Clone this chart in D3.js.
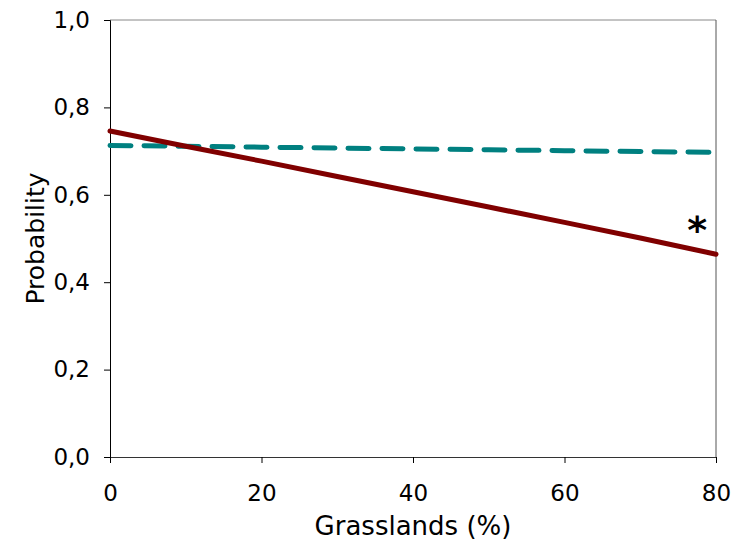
<!DOCTYPE html>
<html><head><meta charset="utf-8">
<script src="https://cdn.jsdelivr.net/npm/d3@7"></script>
<style>body{margin:0;background:#fff}svg{display:block}</style>
</head><body>
<script>
const grass = [0, 10, 20, 30, 40, 50, 60, 70, 80];
const seriesSolid = [0.746, 0.711, 0.677, 0.642, 0.607, 0.572, 0.537, 0.501, 0.464];
const seriesDashed = [0.713, 0.711, 0.709, 0.707, 0.705, 0.703, 0.701, 0.699, 0.697];
const xTicks = [0, 20, 40, 60, 80];
const yTicks = [0, 0.2, 0.4, 0.6, 0.8, 1.0];
const xTitle = "Grasslands (%)";
const yTitle = "Probability";
const note = "*";

const W = 736, H = 544;
const svg = d3.select("body").append("svg").attr("width", W).attr("height", H);
const x = d3.scaleLinear().domain([0, 80]).range([110, 716]);
const y = d3.scaleLinear().domain([0, 1]).range([457, 20]);
const font = "DejaVu Sans, Verdana, sans-serif";

// plot border (top, right)
svg.append("line").attr("x1", x(0)).attr("x2", x(80)).attr("y1", y(1)).attr("y2", y(1)).attr("stroke", "#888").attr("stroke-width", 1);
svg.append("line").attr("x1", x(80)).attr("x2", x(80)).attr("y1", y(1)).attr("y2", y(0)).attr("stroke", "#555").attr("stroke-width", 1);

const fmt = d => d3.format(".1f")(d).replace(".", ",");
const yAx = svg.append("g").attr("transform", `translate(${x(0)},0)`)
  .call(d3.axisLeft(y).tickValues(yTicks).tickFormat(fmt).tickSize(6).tickPadding(14));
const xAx = svg.append("g").attr("transform", `translate(0,${y(0)})`)
  .call(d3.axisBottom(x).tickValues(xTicks).tickSize(6).tickPadding(22));
[yAx, xAx].forEach(g => {
  g.select(".domain").attr("stroke", "#000");
  g.selectAll(".tick line").attr("stroke", "#000");
  g.selectAll("text").attr("font-family", font).attr("font-size", 23).attr("fill", "#000");
});
xAx.select(".domain").attr("stroke", "#333");

const line = d3.line().x((d, i) => x(grass[i])).y(d => y(d));
svg.append("path").datum(seriesDashed).attr("d", line).attr("fill", "none")
  .attr("stroke", "#008080").attr("stroke-width", 5).attr("stroke-linecap", "round")
  .attr("stroke-dasharray", "21,13");
svg.append("path").datum(seriesSolid).attr("d", line).attr("fill", "none")
  .attr("stroke", "#800000").attr("stroke-width", 5).attr("stroke-linecap", "round");

svg.append("text").attr("x", x(77.5)).attr("y", 243).attr("text-anchor", "middle")
  .attr("font-family", font).attr("font-weight", "bold").attr("font-size", 38).text(note);

svg.append("text").attr("x", (x(0) + x(80)) / 2).attr("y", 535).attr("text-anchor", "middle")
  .attr("font-family", font).attr("font-size", 26).text(xTitle);
svg.append("text").attr("transform", `translate(44,${(y(0) + y(1)) / 2}) rotate(-90)`)
  .attr("text-anchor", "middle").attr("font-family", font).attr("font-size", 25).text(yTitle);
</script>
</body></html>
